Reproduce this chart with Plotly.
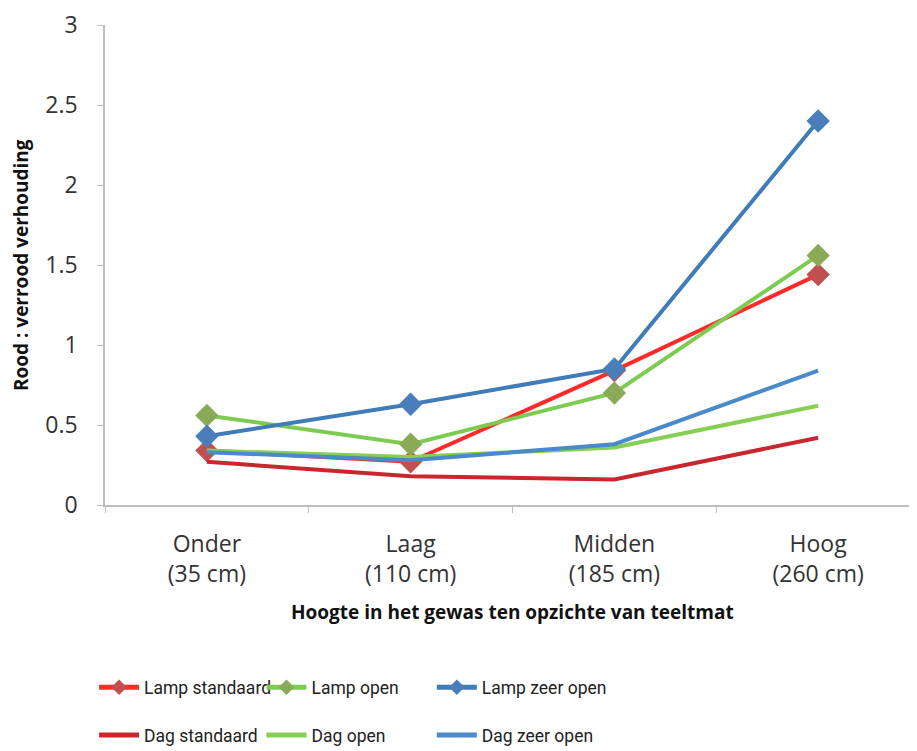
import plotly.graph_objects as go

categories = ["Onder<br>(35 cm)", "Laag<br>(110 cm)", "Midden<br>(185 cm)", "Hoog<br>(260 cm)"]

lamp_standaard = [0.34, 0.27, 0.84, 1.44]
lamp_open = [0.56, 0.38, 0.70, 1.56]
lamp_zeer_open = [0.43, 0.63, 0.85, 2.40]
dag_standaard = [0.27, 0.18, 0.16, 0.42]
dag_open = [0.34, 0.30, 0.36, 0.62]
dag_zeer_open = [0.33, 0.28, 0.38, 0.84]

font = "Open Sans"
leg_font = "Roboto"
fig = go.Figure()

# one legend per column: standaard / open / zeer open
lamp = [
    ("Lamp standaard", lamp_standaard, "#FF2A2A", "#C0504D", "legend"),
    ("Lamp open", lamp_open, "#7DCB50", "#8BAA58", "legend2"),
    ("Lamp zeer open", lamp_zeer_open, "#3F7CB8", "#4A7EBB", "legend3"),
]
for name, vals, line_col, mk_col, lg in lamp:
    fig.add_trace(go.Scatter(x=categories, y=vals, name=name, mode="lines+markers",
                             line=dict(color=line_col, width=4),
                             marker=dict(symbol="diamond", size=18, color=mk_col),
                             legend=lg, legendgroup=name))

dag = [
    ("Dag standaard", dag_standaard, "#C8282D", "legend"),
    ("Dag open", dag_open, "#86CF54", "legend2"),
    ("Dag zeer open", dag_zeer_open, "#4A8ACB", "legend3"),
]
for name, vals, col, lg in dag:
    fig.add_trace(go.Scatter(x=categories, y=vals, name=name, mode="lines",
                             line=dict(color=col, width=4),
                             legend=lg, legendgroup=name))

leg = dict(orientation="v", xanchor="left", yanchor="middle", y=-0.4298,
           font=dict(family=leg_font, size=17.5, color="#222"),
           itemwidth=40, itemsizing="constant", tracegroupgap=22,
           bgcolor="rgba(0,0,0,0)")

fig.update_layout(
    width=917, height=751,
    margin=dict(l=97, r=5, t=17, b=250),
    plot_bgcolor="white", paper_bgcolor="white",
    font=dict(family=font, size=23, color="#333"),
    showlegend=True,
    legend=dict(leg, x=-0.0134),
    legend2=dict(leg, x=0.192),
    legend3=dict(leg, x=0.401),
    xaxis=dict(
        range=[-0.5, 3.5], automargin=False,
        showgrid=False, showline=True, linecolor="#BFBFBF", linewidth=1.5,
        ticks="outside", tickson="boundaries", ticklen=6, tickcolor="#BFBFBF",
        ticklabelstandoff=18,
        tickfont=dict(family=font, size=23, color="#333"),
    ),
    yaxis=dict(
        range=[0, 3], dtick=0.5, showgrid=False, zeroline=False, automargin=False,
        showline=True, linecolor="#BFBFBF", linewidth=1.5,
        ticks="outside", ticklen=6, tickcolor="#BFBFBF",
        ticklabelstandoff=15,
        tickfont=dict(family=font, size=23, color="#333"),
    ),
)

# axis titles
fig.add_annotation(text="<b>Hoogte in het gewas ten opzichte van teeltmat</b>",
                   xref="paper", yref="paper", x=0.5, y=-0.2231,
                   xanchor="center", yanchor="middle", showarrow=False,
                   font=dict(family=font, size=19, color="#111"))
fig.add_annotation(text="<b>Rood : verrood verhouding</b>",
                   xref="paper", yref="paper", x=-0.103, y=0.5, textangle=-90,
                   xanchor="center", yanchor="middle", showarrow=False,
                   font=dict(family=font, size=19, color="#111"))

fig.write_html("out.html")
